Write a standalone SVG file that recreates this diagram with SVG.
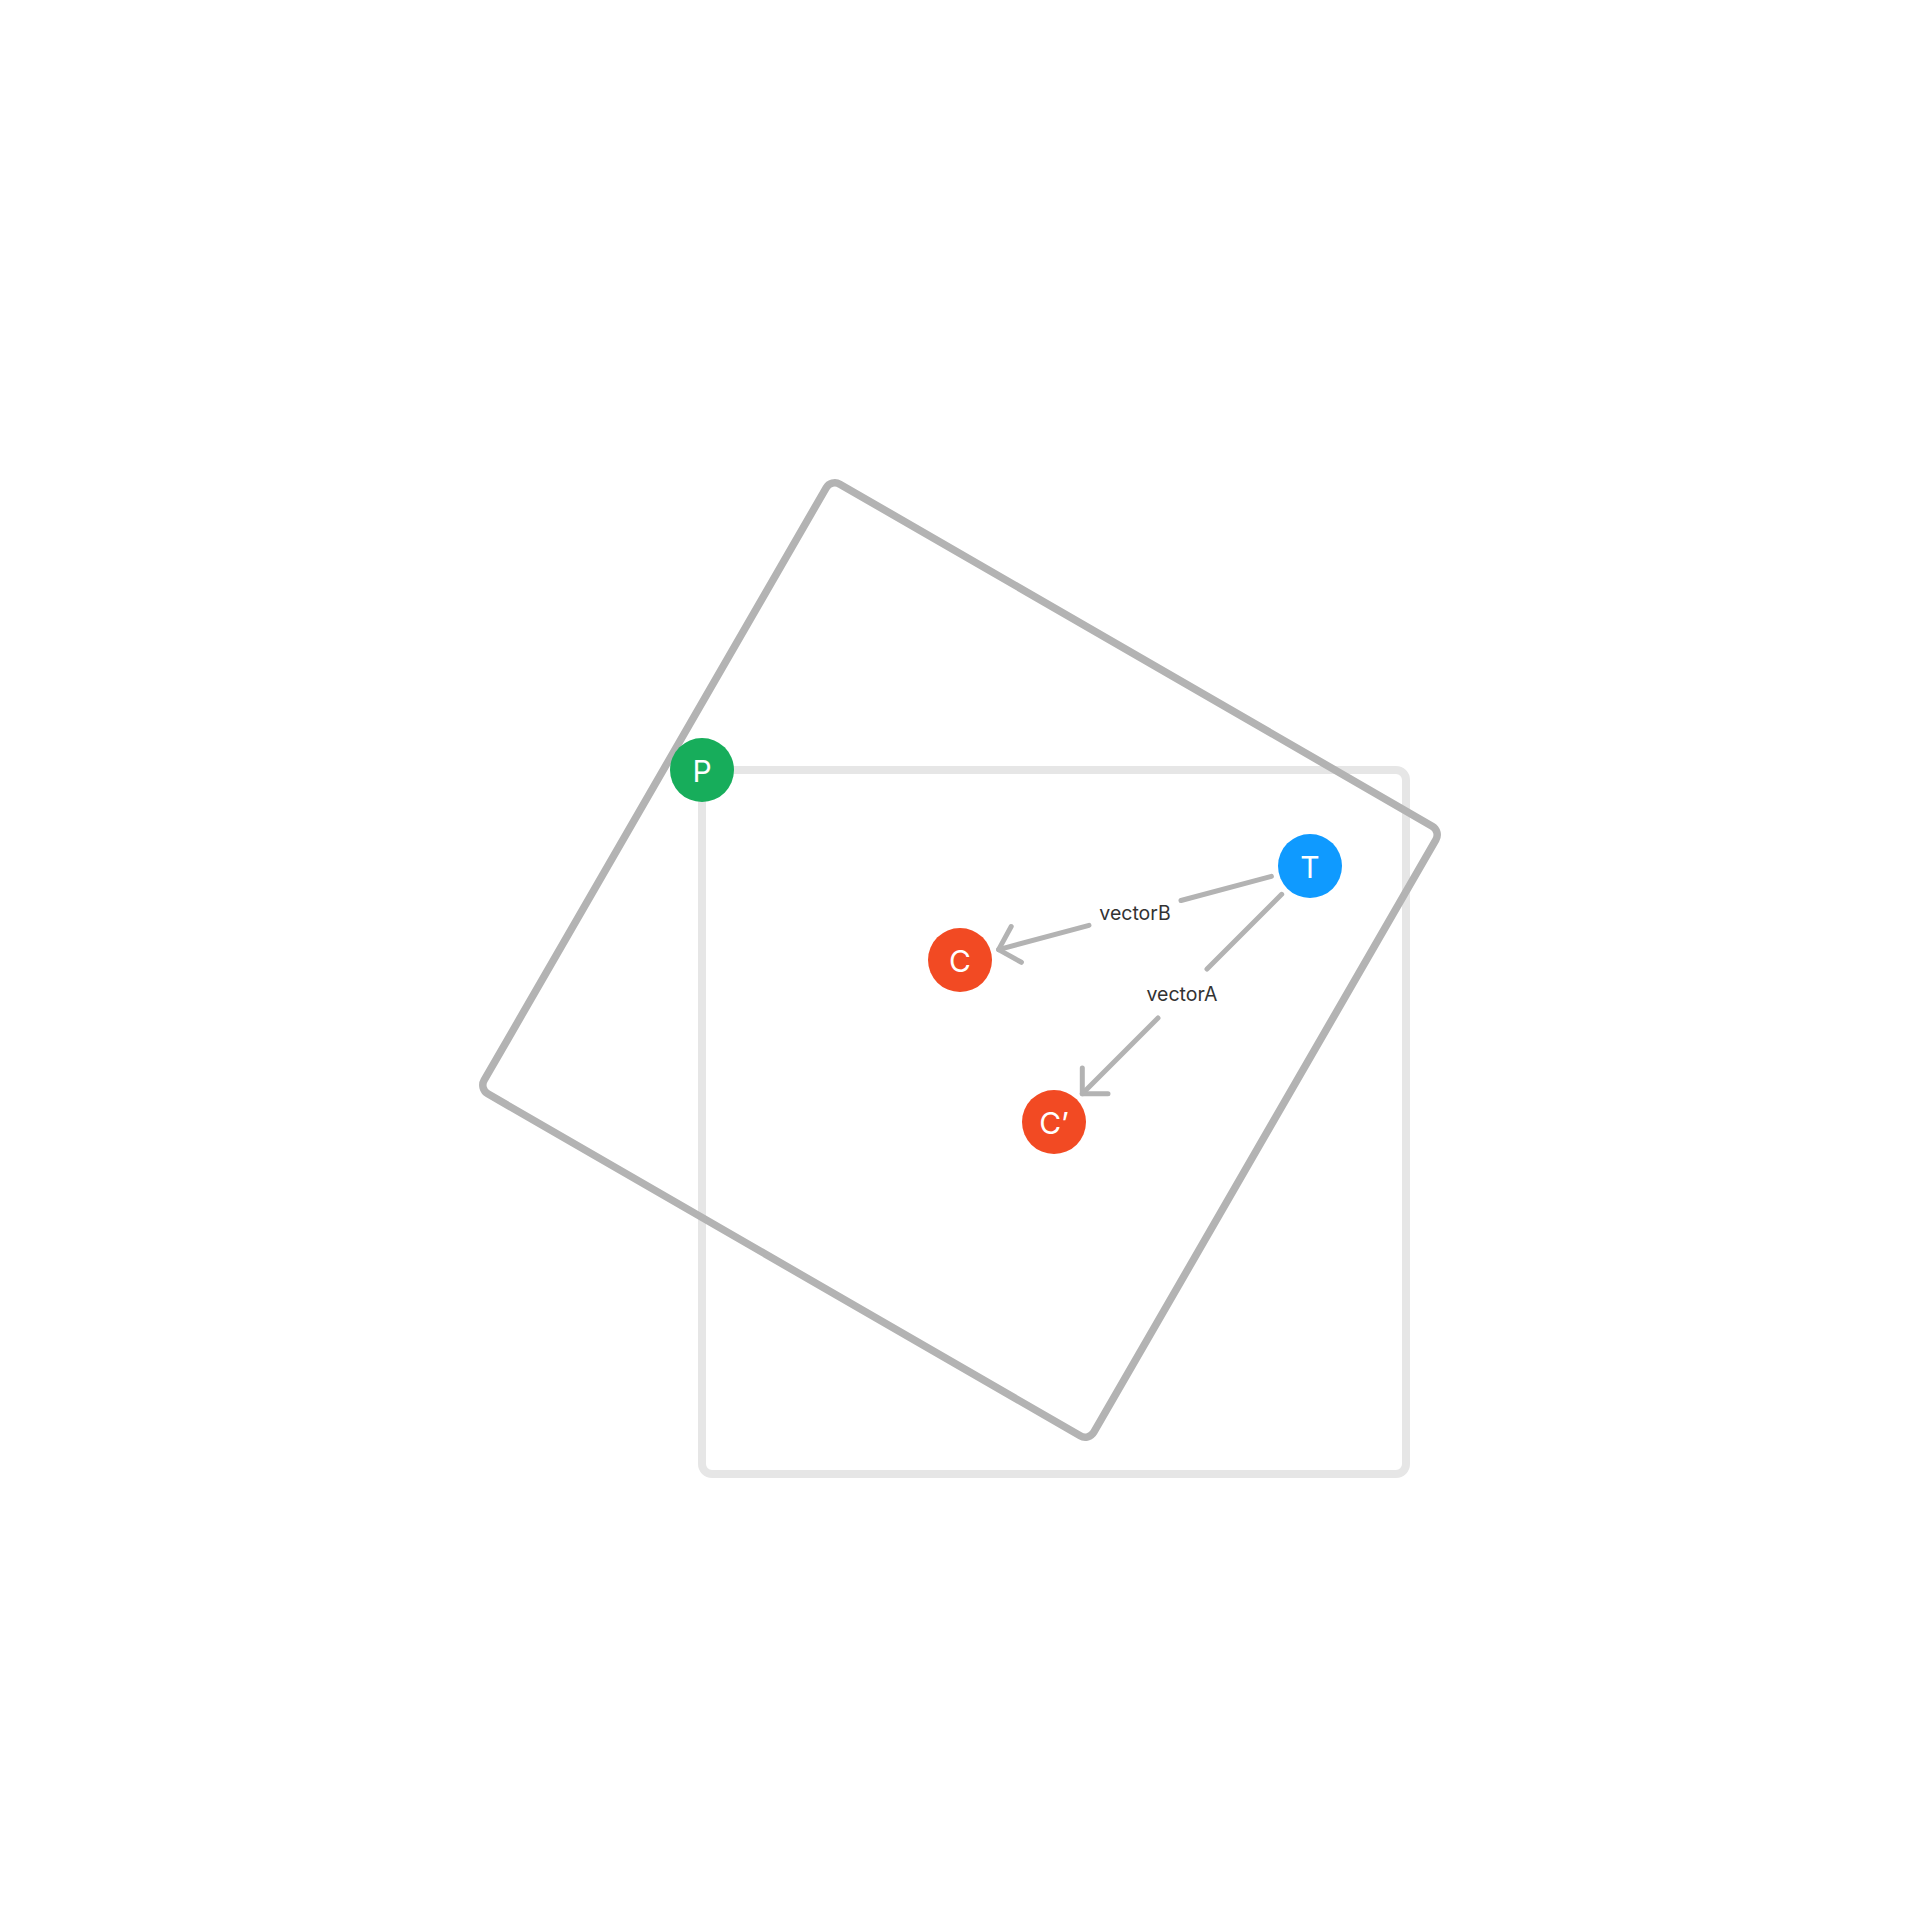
<svg xmlns="http://www.w3.org/2000/svg" width="1920" height="1920" viewBox="0 0 1920 1920">
<style>
.frame{fill:none;stroke:#e6e6e6;stroke-width:8}
.rot{fill:none;stroke:#b3b3b3;stroke-width:7.5}
.edge{fill:none;stroke:#b3b3b3;stroke-width:5;stroke-linecap:round;stroke-linejoin:round}
.lbl{font-family:Inter,"Noto Sans",sans-serif;font-size:19.5px;fill:#333333;text-anchor:middle;dominant-baseline:central}
.nlbl{font-family:Inter,"Noto Sans",sans-serif;font-size:30px;fill:#ffffff;text-anchor:middle;dominant-baseline:central}
</style>
<rect width="1920" height="1920" fill="#ffffff"/>
<g id="frame-original"><rect class="frame" x="702" y="770" width="704" height="704" rx="10"/></g>
<g id="frame-rotated"><rect class="rot" x="608" y="608" width="704" height="704" rx="10" transform="rotate(30 960 960)"/></g>
<g id="connectors">
<g id="vectorB">
<line class="edge" x1="1271.4" y1="876.4" x2="1181" y2="900.5"/>
<line class="edge" x1="1089" y1="925.3" x2="998.6" y2="949.6"/>
<path class="edge" d="M1011.2,926.5 L998.6,949.6 L1021.4,962.3"/>
<text class="lbl" x="1135" y="913">vectorB</text>
</g>
<g id="vectorA">
<line class="edge" x1="1281.7" y1="894.3" x2="1207" y2="969"/>
<line class="edge" x1="1158" y1="1018" x2="1082.3" y2="1093.7"/>
<path class="edge" d="M1082.3,1068 L1082.3,1093.7 L1108,1093.7"/>
<text class="lbl" x="1182" y="994">vectorA</text>
</g>
</g>
<g id="node-P"><circle cx="702" cy="770" r="32" fill="#17ad5b"/><text class="nlbl" x="702" y="771">P</text></g>
<g id="node-T"><circle cx="1310" cy="866" r="32" fill="#0f9aff"/><text class="nlbl" x="1310" y="867">T</text></g>
<g id="node-C"><circle cx="960" cy="960" r="32" fill="#f24a23"/><text class="nlbl" x="960" y="961">C</text></g>
<g id="node-Cp"><circle cx="1054" cy="1122" r="32" fill="#f24a23"/><text class="nlbl" x="1054" y="1123">C’</text></g>
</svg>
